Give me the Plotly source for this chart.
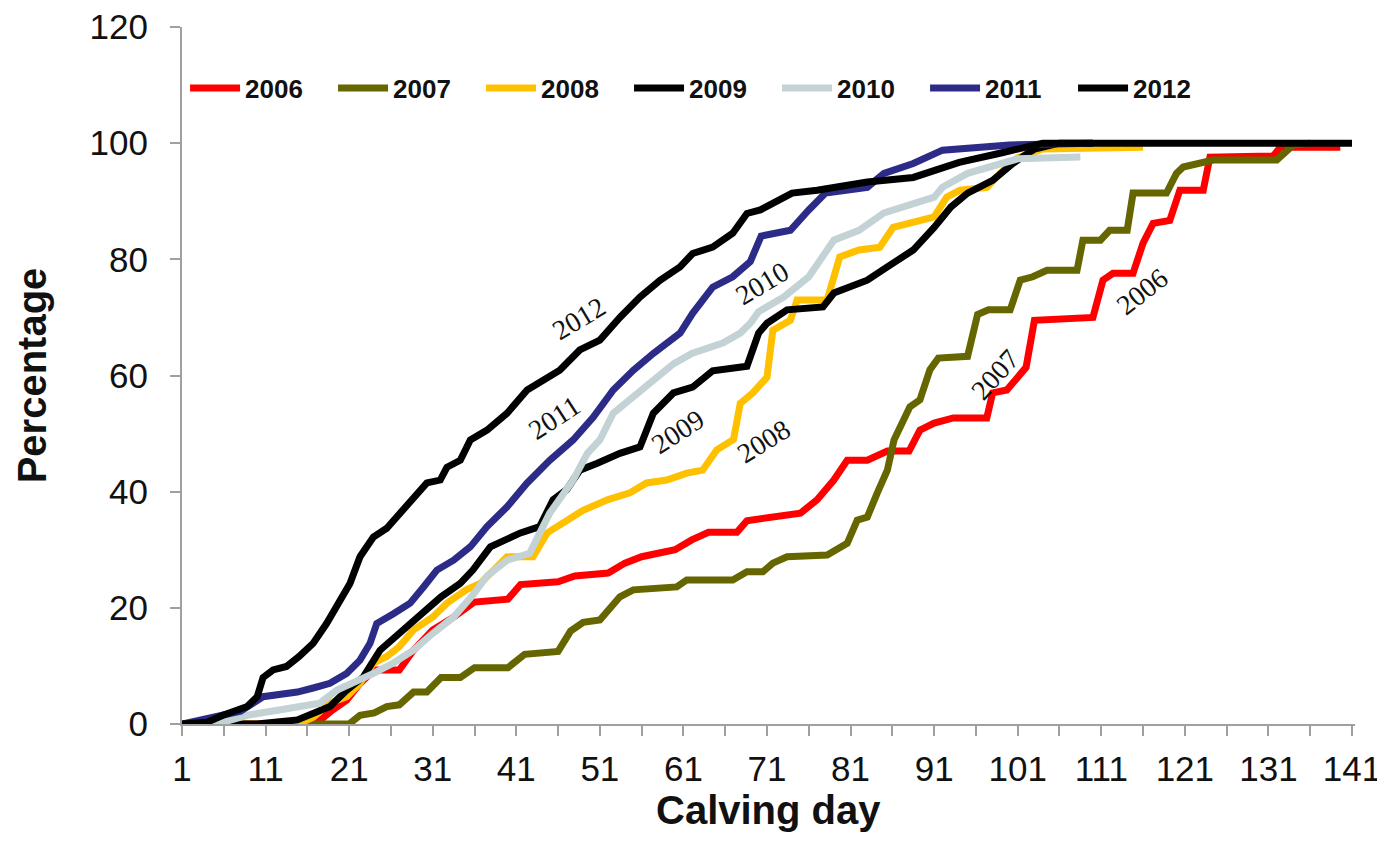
import plotly.graph_objects as go

# ---- data ----
years = ["2006", "2007", "2008", "2009", "2010", "2011", "2012"]
colors = ["#ff0000", "#666600", "#ffc000", "#000000", "#c3d2d4", "#2c2c88", "#000000"]

day_2006 = [1, 17, 19, 20.7, 22.3, 24, 27, 28.7, 31, 33.5, 36, 40, 41.5, 46, 48, 52, 54, 56, 60, 62, 64,
            67.4, 68.6, 71, 75, 77, 79, 80.6, 83, 85.4, 88, 89.3, 91, 93.3, 97.3, 98, 99.7, 102, 103, 110,
            111.2, 112.4, 114.8, 116, 117.2, 119.2, 120.4, 123.2, 124, 131.6, 132.4, 139.6]
pct_2006 = [0, 0, 2.4, 4.1, 7, 9.3, 9.3, 12.7, 16.2, 18.4, 21, 21.5, 24, 24.5, 25.5, 26, 27.7, 28.8, 30, 31.7, 33,
            33, 35, 35.6, 36.3, 38.6, 42, 45.4, 45.4, 47, 47, 50.6, 51.8, 52.7, 52.7, 57, 57.5, 61.4, 69.5, 70,
            76.4, 77.6, 77.6, 82.8, 86.2, 86.7, 91.9, 91.9, 97.6, 97.8, 99.3, 99.3]

day_2007 = [1, 21, 22.3, 24, 25.5, 27, 28.7, 30.3, 32, 34.3, 36, 40, 42, 46, 47.5, 49, 51, 53.4, 55, 60.2, 61.4,
            66.9, 68.6, 70.5, 71.7, 73.4, 78.2, 79.7, 80.6, 81.8, 83, 84.2, 85.4, 86.2, 87.3, 88.1, 89.3, 90.5,
            91.5, 95, 96.2, 97.5, 100.1, 101.3, 102.8, 104.5, 108.1, 108.8, 110.9, 112, 114.1, 114.8, 118.8,
            120, 120.8, 124.4, 132, 133.2, 134, 136]
pct_2007 = [0, 0, 1.5, 1.9, 3, 3.3, 5.5, 5.5, 8, 8, 9.7, 9.7, 12, 12.5, 16, 17.5, 17.9, 21.9, 23.1, 23.6, 24.8,
            24.8, 26.2, 26.2, 27.7, 28.8, 29.1, 30.5, 31.1, 35.1, 35.6, 39.8, 43.7, 48.9, 52.3, 54.6, 55.8, 61,
            63, 63.3, 70.5, 71.3, 71.3, 76.4, 77, 78.1, 78.1, 83.3, 83.3, 85, 85, 91.4, 91.4,
            94.8, 95.9, 97.1, 97.1, 98.8, 99.7, 100]

day_2008 = [1, 15, 16.7, 18.7, 20.7, 22.3, 23.9, 25.5, 27, 28.7, 31, 32.7, 35, 36.7, 39.9, 43, 44.7, 47, 49,
            51.9, 54.6, 56.6, 59, 61.4, 63.3, 65, 67, 67.8, 69.3, 71, 71.7, 73.8, 74.6, 78.2, 79.7, 82, 84.5,
            86.1, 91, 92.5, 94.1, 97.3, 98.9, 101, 104, 116]
pct_2008 = [0, 0, 1.2, 3.6, 4.7, 7, 10.5, 11.6, 13.3, 16.2, 18.4, 20.8, 23.1, 24.2, 28.8, 28.8, 32.9, 35.1, 36.8,
            38.6, 39.8, 41.5, 42, 43.2, 43.7, 47.2, 49, 55.2, 57, 59.7, 67.8, 69.5, 73, 73, 80.4, 81.6, 82.1,
            85.5, 87.3, 90.7, 91.9, 92.4, 94.8, 97.5, 99, 99.3]

day_2009 = [1, 10, 14.8, 16.7, 18.7, 20.7, 22.7, 24.7, 27, 29.5, 32, 34.3, 35.8, 37.9, 41.5, 43.8, 45.4, 47,
            48.6, 50.7, 53.4, 55.8, 57.4, 59.8, 62.1, 64.5, 68.6, 70, 71, 73.4, 77.7, 79, 83, 85.4, 88.5, 91,
            93, 95, 98, 100.4, 103, 106, 110]
pct_2009 = [0, 0, 0.7, 1.9, 3, 5.8, 8.1, 12.7, 15.6, 18.4, 21.9, 24.2, 26.5, 30.5, 32.9, 34, 38.6, 40.3,
            43.7, 44.9, 46.6, 47.7, 53.5, 57, 58, 60.8, 61.6, 67.3, 69, 71.3, 71.8, 74.2, 76.4, 78.7, 81.6, 85.5,
            89, 91.4, 93.6, 96.5, 99, 100, 100]

day_2010 = [1, 5.9, 8.8, 10.7, 14.8, 17.5, 19.5, 21.5, 23.9, 26.3, 28.7, 31, 33.5, 35.8, 37.5, 39.9, 42.6, 45,
            47.8, 49.5, 51, 52.6, 55, 57.4, 59.8, 62, 65.7, 67.8, 69, 70, 73, 76, 79, 82, 85, 91, 92, 95, 99,
            101, 108.5]
pct_2010 = [0, 0.3, 1.5, 2, 3, 3.6, 5.8, 7, 8.7, 10.5, 12.7, 15.6, 18.4, 22.2, 25.5, 28.2, 29.4, 36.3,
            42, 46.6, 48.9, 53.5, 56.3, 59.2, 62, 63.8, 65.6, 67.3, 69, 71, 73.5, 77, 83.3, 85, 88, 90.7, 92.4,
            94.8, 96.5, 97.3, 97.6]

day_2011 = [1, 3, 5.9, 8, 10.7, 12.7, 14.8, 16.7, 18.7, 20.7, 22.3, 23.5, 24.3, 26.3, 28.3, 29.9, 31.5, 33.5,
            35.5, 37.5, 39.9, 42.3, 45, 47.8, 50.2, 52.6, 55, 57.4, 60.6, 62.1, 64.5, 66.9, 69, 70.3, 73.8, 76,
            78, 83, 85, 88.5, 92, 100, 106, 110]
pct_2011 = [0, 0.7, 1.5, 2.2, 4.7, 5, 5.5, 6.2, 7, 8.7, 11, 13.9, 17.3, 19, 20.8, 23.6, 26.5, 28.2,
            30.5, 34, 37.4, 41.5, 45.4, 48.9, 52.8, 57.5, 60.9, 63.8, 67.3, 70.7, 75.2, 77, 79.6, 84, 85, 88.5,
            91.4, 92.4, 94.8, 96.5, 98.8, 99.7, 100, 100]

day_2012 = [1, 4, 5.9, 8.8, 10, 10.7, 11.9, 13.5, 15, 16.7, 18.3, 19.9, 21.1, 22.3, 23.9, 25.5, 27.1, 28.7,
            30.3, 31.9, 32.7, 34.3, 35.5, 37.5, 39.9, 42.3, 44.7, 46.2, 48.6, 51, 53.4, 55.8, 58.2, 60.6, 62.1,
            64.5, 66.9, 68.6, 70.2, 74, 77, 83, 88.5, 94, 99, 101, 104, 141]
pct_2012 = [0, 0.3, 1.5, 3, 4.7, 8, 9.3, 9.9, 11.6, 13.9, 17.3, 21.3, 24.2, 28.8, 32.2, 33.7, 36.3, 39.1,
            41.5, 42, 44.2, 45.4, 48.9, 50.6, 53.5, 57.5, 59.7, 60.9, 64.4, 66.1, 70, 73.5, 76.4, 78.7, 81,
            82.1, 84.5, 87.9, 88.5, 91.4, 91.9, 93.3, 94.1, 96.7, 98.3, 99, 100, 100]

days = [day_2006, day_2007, day_2008, day_2009, day_2010, day_2011, day_2012]
pcts = [pct_2006, pct_2007, pct_2008, pct_2009, pct_2010, pct_2011, pct_2012]

# in-chart year labels: (day, percentage, angle)
label_text = ["2012", "2011", "2010", "2009", "2008", "2007", "2006"]
label_day = [48.5, 45.6, 70.4, 60.4, 70.6, 98.3, 115.9]
label_pct = [69.8, 52.7, 75.9, 50.3, 48.6, 60.2, 74.5]
label_angle = [-31, -33, -31, -33, -32, -48, -38]

x_tickvals = list(range(1, 142, 10))
y_tickvals = list(range(0, 121, 20))
x_title = "Calving day"
y_title = "Percentage"

# ---- figure ----
fig = go.Figure()
for yr, col, d, p in zip(years, colors, days, pcts):
    fig.add_trace(go.Scatter(
        x=d, y=p, mode="lines", name=yr,
        line=dict(color=col, width=7),
    ))

for t, dx, py, a in zip(label_text, label_day, label_pct, label_angle):
    fig.add_annotation(x=dx, y=py, text=t, textangle=a, showarrow=False,
                       font=dict(family="Liberation Serif, Times New Roman, serif", size=28, color="#111111"))

axis_font = dict(family="Arial, Liberation Sans, sans-serif", size=35, color="#111111")
title_font = dict(family="Arial, Liberation Sans, sans-serif", size=40, color="#111111", weight="bold")

# axis titles
fig.add_annotation(xref="paper", yref="paper", x=0.5, y=-0.124, xanchor="center", yanchor="middle",
                   text=x_title, showarrow=False, font=title_font)
fig.add_annotation(xref="paper", yref="paper", x=-0.128, y=0.5, xanchor="center", yanchor="middle",
                   text=y_title, textangle=-90, showarrow=False, font=title_font)

fig.update_layout(
    template="none",
    width=1385, height=847,
    margin=dict(l=174, r=38, t=19, b=131, autoexpand=False),
    paper_bgcolor="white", plot_bgcolor="white",
    showlegend=True,
    legend=dict(
        orientation="h", x=0.0026, xanchor="left", y=0.9125, yanchor="middle",
        font=dict(family="Arial, Liberation Sans, sans-serif", size=26, color="#111111", weight="bold"),
        entrywidth=83, entrywidthmode="pixels", itemwidth=50,
        bgcolor="rgba(0,0,0,0)", borderwidth=0, tracegroupgap=0,
    ),
    xaxis=dict(
        automargin=False, ticklabeloverflow="allow",
        range=[1, 141.36], tickmode="array", tickvals=x_tickvals,
        ticks="outside", ticklen=10, tickwidth=2, tickcolor="#a0a0a0",
        minor=dict(dtick=5, tick0=1, ticks="outside", ticklen=10, tickwidth=2, tickcolor="#a0a0a0"),
        showline=True, linecolor="#a0a0a0", linewidth=2, showgrid=False, zeroline=False,
        tickfont=axis_font, ticklabelstandoff=3,
    ),
    yaxis=dict(
        automargin=False, ticklabeloverflow="allow",
        range=[0, 120], tickmode="array", tickvals=y_tickvals,
        ticks="outside", ticklen=10, tickwidth=2, tickcolor="#a0a0a0",
        showline=True, linecolor="#a0a0a0", linewidth=2, showgrid=False, zeroline=False,
        tickfont=axis_font, ticklabelstandoff=15,
    ),
)

fig.write_html("out.html")
